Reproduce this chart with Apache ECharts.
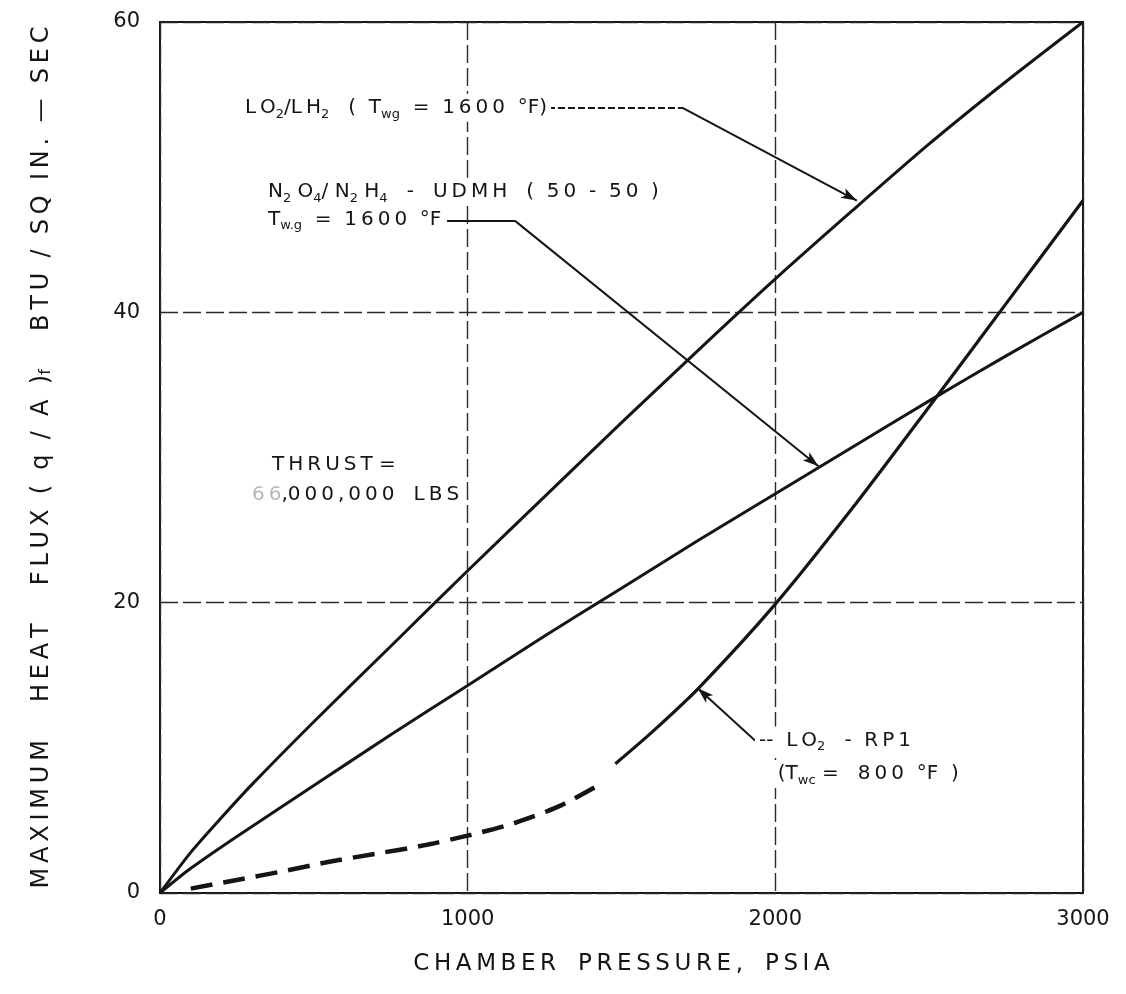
<!DOCTYPE html>
<html>
<head>
<meta charset="utf-8">
<script src="https://cdn.jsdelivr.net/npm/echarts@6/dist/echarts.min.js"></script>
<style>
html,body{margin:0;padding:0;background:#fff;}
#chart{width:1126px;height:994px;}
</style>
</head>
<body>
<div id="chart"></div>
<script>
// ---- data ----
var xTicks = [0, 1000, 2000, 3000];
var yTicks = [0, 20, 40, 60];

var lh2Pressure = [0, 100, 200, 300, 500, 750, 1000, 1250, 1500, 1750, 2000, 2250, 2500, 2750, 3000];
var lh2Flux     = [0, 2.8, 5.2, 7.5, 11.8, 17.0, 22.2, 27.3, 32.4, 37.4, 42.3, 47.0, 51.6, 55.9, 60.0];

var n2o4Pressure = [0, 100, 250, 500, 750, 1000, 1250, 1500, 1750, 2000, 2250, 2500, 2750, 3000];
var n2o4Flux     = [0, 1.7, 3.9, 7.4, 10.9, 14.3, 17.7, 21.0, 24.3, 27.5, 30.7, 33.9, 37.0, 40.0];

var rp1DashPressure = [100, 250, 400, 550, 700, 850, 1000, 1150, 1300, 1440];
var rp1DashFlux     = [0.3, 0.9, 1.5, 2.15, 2.7, 3.25, 3.95, 4.8, 6.0, 7.6];

var rp1Pressure = [1480, 1600, 1750, 2000, 2250, 2500, 2750, 3000];
var rp1Flux     = [8.9, 11.1, 14.1, 19.9, 26.5, 33.5, 40.6, 47.7];

// annotation anchors (data units)
var lh2LeaderPts  = [[1261, 54.1], [1697, 54.1], [2265, 47.7]];
var n2o4LeaderPts = [[933, 46.3], [1154, 46.3], [2140, 29.4]];
var rp1LeaderPts  = [[1934, 10.5], [1748, 14.1]];

function pairs(xs, ys) { return xs.map(function (x, i) { return [x, ys[i]]; }); }
// letter-spaced lettering
function sp(s) { return s.split('').join('\u2009'); }

var ink = '#151515';
var fontFam = '"DejaVu Sans", "Liberation Sans", sans-serif';
var sub = { fontSize: 13, lineHeight: 12, verticalAlign: 'bottom', color: ink, fontFamily: fontFam };
var subBig = { fontSize: 16, lineHeight: 16, verticalAlign: 'bottom', color: ink, fontFamily: fontFam };
var faint = { fontSize: 20, color: '#b8b8b8', fontFamily: fontFam };

function leader(points, dashedFirst) {
  var segs = [];
  for (var i = 0; i < points.length - 1; i++) {
    var last = (i === points.length - 2);
    segs.push([
      { coord: points[i], symbol: 'none' },
      { coord: points[i + 1], symbol: last ? 'arrow' : 'none', symbolSize: [8, 16],
        lineStyle: (i === 0 && dashedFirst) ? { type: [7, 3] } : undefined }
    ]);
  }
  return segs;
}

function textPoint(coord, text) {
  return {
    coord: coord,
    symbol: 'circle', symbolSize: 0,
    label: {
      show: true, position: 'right', distance: 0,
      formatter: text, align: 'left',
      fontSize: 20, lineHeight: 26, color: ink, fontFamily: fontFam,
      backgroundColor: '#fff', padding: [1, 4, 1, 4],
      rich: { s: sub, f: faint }
    }
  };
}

var W = '     ';
var chart = echarts.init(document.getElementById('chart'), null, { renderer: 'canvas' });

var option = {
  backgroundColor: '#fff',
  animation: false,
  grid: { left: 160, right: 43, top: 22, bottom: 101, show: true, borderColor: ink, borderWidth: 2, backgroundColor: 'transparent' },
  xAxis: {
    type: 'value', min: xTicks[0], max: xTicks[xTicks.length - 1], interval: 1000,
    axisLine: { show: false }, axisTick: { show: false },
    axisLabel: { fontSize: 21, color: ink, margin: 16, fontFamily: fontFam, formatter: function (v) { return String(v); } },
    splitLine: { show: true, lineStyle: { color: '#2a2a2a', width: 1.4, type: [18, 5] } },
    name: sp('CHAMBER') + '   ' + sp('PRESSURE,') + '   ' + sp('PSIA'),
    nameLocation: 'middle', nameGap: 60,
    nameTextStyle: { fontSize: 23, color: ink, fontFamily: fontFam }
  },
  yAxis: {
    type: 'value', min: yTicks[0], max: yTicks[yTicks.length - 1], interval: 20,
    axisLine: { show: false }, axisTick: { show: false },
    axisLabel: { fontSize: 21, color: ink, margin: 20, fontFamily: fontFam },
    splitLine: { show: true, lineStyle: { color: '#2a2a2a', width: 1.4, type: [18, 5] } },
    name: sp('MAXIMUM') + W + sp('HEAT') + W + sp('FLUX') + '  (  q  /  A  ){s|f}' + W + sp('BTU') + '  /  ' + sp('SQ') + '  ' + sp('IN.') + '  —  ' + sp('SEC'),
    nameLocation: 'middle', nameGap: 106, nameRotate: 90,
    nameTextStyle: { fontSize: 24, color: ink, fontFamily: fontFam, rich: { s: subBig } }
  },
  series: [
    {
      name: 'LO2/LH2', type: 'line', data: pairs(lh2Pressure, lh2Flux), smooth: 0.25,
      symbol: 'none', lineStyle: { color: ink, width: 3 }, z: 5
    },
    {
      name: 'N2O4/N2H4-UDMH', type: 'line', data: pairs(n2o4Pressure, n2o4Flux), smooth: 0.25,
      symbol: 'none', lineStyle: { color: ink, width: 3 }, z: 5
    },
    {
      name: 'LO2-RP1 (dashed)', type: 'line', data: pairs(rp1DashPressure, rp1DashFlux), smooth: 0.25,
      symbol: 'none', lineStyle: { color: ink, width: 4.5, type: [22, 11] }, z: 5
    },
    {
      name: 'LO2-RP1', type: 'line', data: pairs(rp1Pressure, rp1Flux), smooth: 0.25,
      symbol: 'none', lineStyle: { color: ink, width: 3.2 }, z: 5
    },
    {
      name: 'annotations', type: 'line', data: [], z: 6,
      markLine: {
        silent: true, animation: false,
        lineStyle: { color: ink, width: 2, type: 'solid' },
        label: { show: false },
        data: leader(lh2LeaderPts, true).concat(leader(n2o4LeaderPts, false)).concat(leader(rp1LeaderPts, false))
      },
      markPoint: {
        silent: true, animation: false,
        data: [
          textPoint([263, 54.1], sp('LO') + '{s|2}/' + sp('LH') + '{s|2}   (  T{s|wg}  =  ' + sp('1600') + '  °F)'),
          textPoint([338, 48.3], 'N{s|2} O{s|4}/ N{s|2} H{s|4}   -   ' + sp('UDMH') + '   (  ' + sp('50') + '  -  ' + sp('50') + '  )'),
          textPoint([338, 46.4], 'T{s|w.g}  =  ' + sp('1600') + '  °F'),
          textPoint([351, 29.5], sp('THRUST') + ' ='),
          textPoint([286, 27.4], '{f|6\u20096},' + sp('000,000') + '   ' + sp('LBS')),
          textPoint([1934, 10.5], '--  ' + sp('LO') + '{s|2}   -  ' + sp('RP1')),
          textPoint([1995, 8.2], '(T{s|wc} =   ' + sp('800') + '  °F  )')
        ]
      }
    }
  ]
};
chart.setOption(option);
</script>
</body>
</html>
